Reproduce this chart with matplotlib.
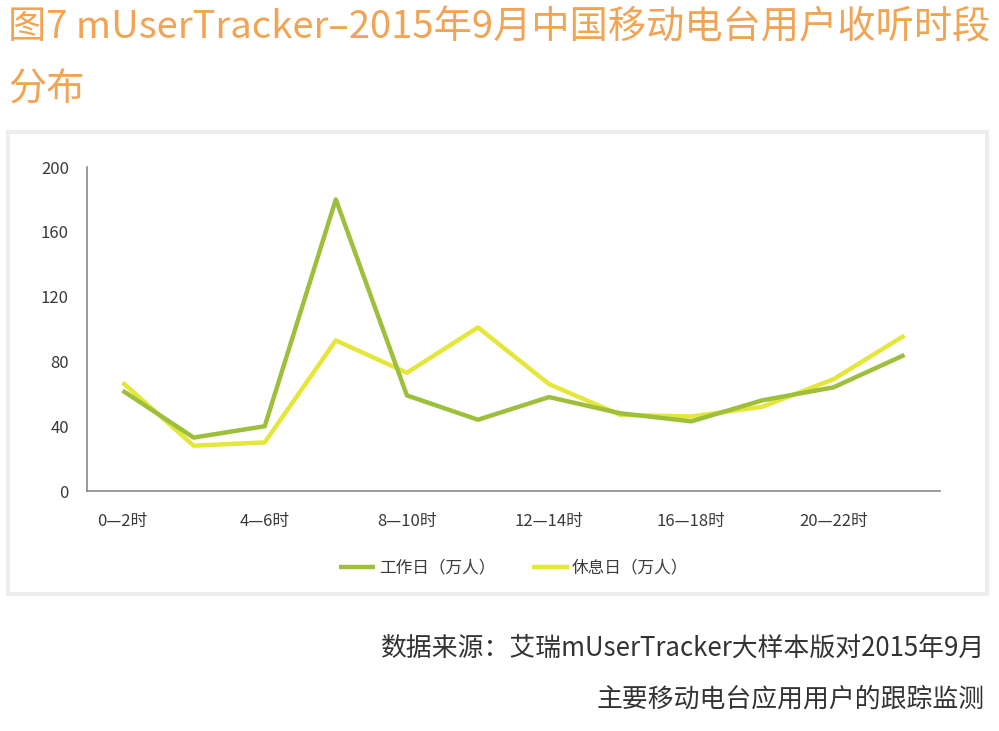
import matplotlib.pyplot as plt
from matplotlib.patches import Rectangle

plt.rcParams['font.family'] = ['Noto Sans CJK SC', 'DejaVu Sans']

periods = ['0—2时', '2—4时', '4—6时', '6—8时', '8—10时', '10—12时',
           '12—14时', '14—16时', '16—18时', '18—20时', '20—22时', '22—24时']
workday = [62, 33, 40, 180, 59, 44, 58, 48, 43, 56, 64, 84]
weekend = [67, 28, 30, 93, 73, 101, 66, 47, 46, 52, 69, 96]
yticks = [0, 40, 80, 120, 160, 200]

green = '#9dbf3b'
yellow = '#e4e63a'
orange = '#f2a455'

fig = plt.figure(figsize=(9.99, 7.31), dpi=100)

# light panel behind the chart
panel = Rectangle((0.008, 0.187), 0.98, 0.632, transform=fig.transFigure,
                  facecolor='white', edgecolor='#ededed', linewidth=3, zorder=-1)
fig.patches.append(panel)

ax = fig.add_axes([0.0871, 0.3283, 0.8539, 0.4432])
ax.set_zorder(2)
x = list(range(len(periods)))
ax.plot(x, workday, color=green, linewidth=3.2, label='工作日（万人）',
        solid_capstyle='butt', zorder=3)
ax.plot(x, weekend, color=yellow, linewidth=3.2, label='休息日（万人）',
        solid_capstyle='butt', zorder=2)

ax.set_xlim(-0.5, len(periods) - 0.5)
ax.set_ylim(0, 200)
ax.set_yticks(yticks)
ax.set_yticklabels([str(v) for v in yticks], fontsize=12, color='#3a3a3a')
ax.set_xticks(x[::2])
ax.set_xticklabels(periods[::2], fontsize=12, color='#3a3a3a')
ax.tick_params(axis='both', length=0)
ax.tick_params(axis='y', pad=13)
ax.tick_params(axis='x', pad=16)
for s in ['top', 'right']:
    ax.spines[s].set_visible(False)
for s in ['left', 'bottom']:
    ax.spines[s].set_color('#8a8a8a')
    ax.spines[s].set_linewidth(1.2)
ax.set_facecolor('none')

leg = ax.legend(loc='upper center', bbox_to_anchor=(0.5, -0.165), ncol=2,
                frameon=False, fontsize=12, handlelength=2.2, handletextpad=0.2,
                columnspacing=2.2)
for t in leg.get_texts():
    t.set_color('#3a3a3a')

fig.text(0.008, 0.988, '图7 mUserTracker–2015年9月中国移动电台用户收听时段\n分布',
         ha='left', va='top', fontsize=27.5, color=orange, linespacing=1.75,
         fontweight='light')

fig.text(0.986, 0.113, '数据来源：艾瑞mUserTracker大样本版对2015年9月',
         ha='right', va='center', fontsize=18.6, color='#333333', fontweight='light')
fig.text(0.986, 0.043, '主要移动电台应用用户的跟踪监测',
         ha='right', va='center', fontsize=18.6, color='#333333', fontweight='light')

fig.savefig('out.png', dpi=100)
